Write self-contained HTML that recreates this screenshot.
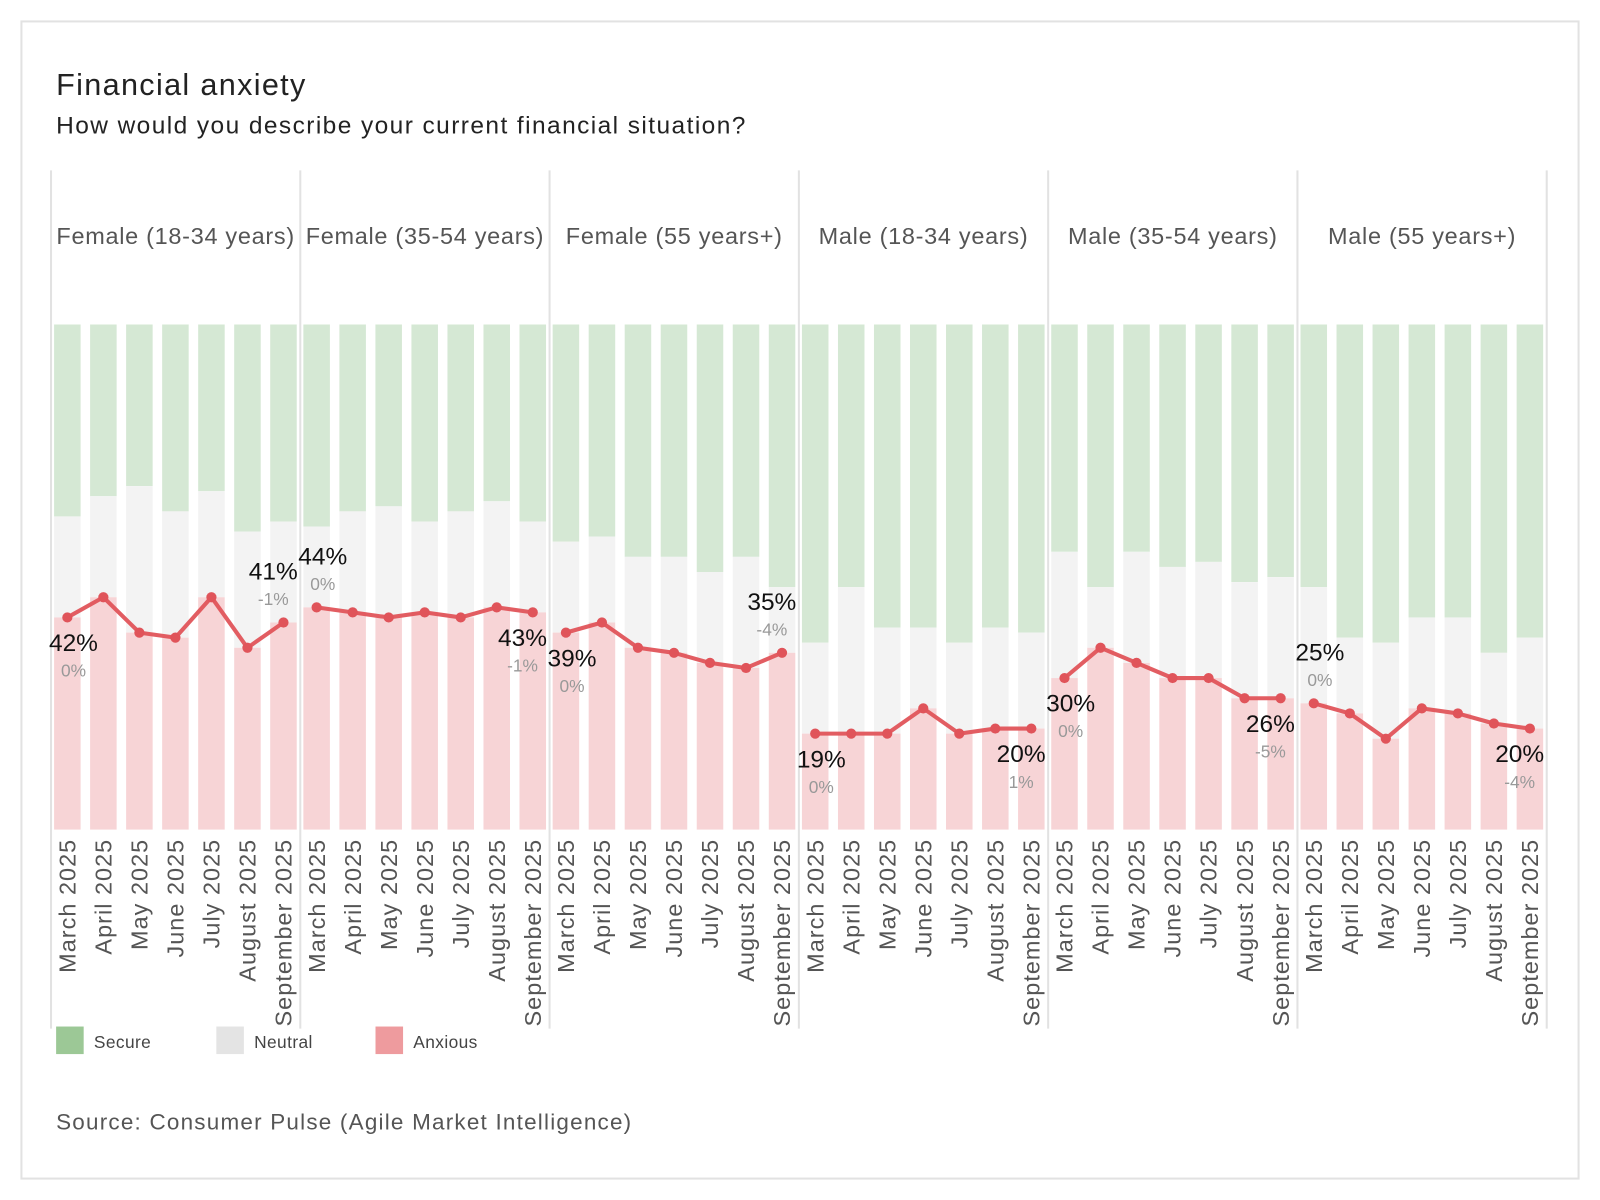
<!DOCTYPE html>
<html><head><meta charset="utf-8"><style>
html,body{margin:0;padding:0;background:#fff;}
svg{display:block;font-family:"Liberation Sans",sans-serif;}
</style></head><body>
<svg id="chart" width="1600" height="1200" viewBox="0 0 1568 1176" xmlns="http://www.w3.org/2000/svg">
<rect x="21" y="21" width="1526" height="1134" fill="#fff" stroke="#e2e2e2" stroke-width="2"/>
<text x="55" y="93" font-size="30" letter-spacing="1.3" fill="#222">Financial anxiety</text>
<text x="55" y="131" font-size="24" letter-spacing="1.4" fill="#222">How would you describe your current financial situation?</text>
<g id="plot"></g>
<g>
<rect x="55" y="1006" width="27" height="27" fill="#9cc896"/>
<text x="92" y="1027" font-size="17" letter-spacing="0.4" fill="#444">Secure</text>
<rect x="212" y="1006" width="27" height="27" fill="#e4e4e4"/>
<text x="249" y="1027" font-size="17" letter-spacing="0.4" fill="#444">Neutral</text>
<rect x="368" y="1006" width="27" height="27" fill="#ee9b9e"/>
<text x="405" y="1027" font-size="17" letter-spacing="0.4" fill="#444">Anxious</text>
</g>
<text x="55" y="1107" font-size="22" letter-spacing="1.2" fill="#555">Source: Consumer Pulse (Agile Market Intelligence)</text>
</svg>
<script>
const panels = ["Female (18-34 years)","Female (35-54 years)","Female (55 years+)","Male (18-34 years)","Male (35-54 years)","Male (55 years+)"];
const months = ["March 2025","April 2025","May 2025","June 2025","July 2025","August 2025","September 2025"];
const anxious = [
 [42,46,39,38,46,36,41],
 [44,43,42,43,42,44,43],
 [39,41,36,35,33,32,35],
 [19,19,19,24,19,20,20],
 [30,36,33,30,30,26,26],
 [25,23,18,24,23,21,20]];
const secure = [
 [38,34,32,37,33,41,39],
 [40,37,36,39,37,35,39],
 [43,42,46,46,49,46,52],
 [63,52,60,60,63,60,61],
 [45,52,45,48,47,51,50],
 [52,62,63,58,58,65,62]];
const firstChange = ["0%","0%","0%","0%","0%","0%"];
const lastChange = ["-1%","-1%","-4%","1%","-5%","-4%"];
const firstAbove = [false,true,false,false,false,true];
const lastAbove = [true,false,true,false,false,false];

const NS="http://www.w3.org/2000/svg";
const plot=document.getElementById('plot');
const TOP=318, BOT=813, H=BOT-TOP;
const P0=50, PW=244.3;
function yv(v){return BOT - v/100*H;}
function px(p){return P0 + p*PW;}
function bx(p,i){return px(p)+3+i*35.3;}
const BW=26;
function mk(tag,attrs,parent){const e=document.createElementNS(NS,tag);for(const k in attrs)e.setAttribute(k,attrs[k]);(parent||plot).appendChild(e);return e;}

for(let p=0;p<=panels.length;p++){
  const l=mk('line',{x1:px(p),x2:px(p),y1:167,y2:1008,stroke:'#e2e2e2','stroke-width':2});
  
  
}
panels.forEach((name,p)=>{
  const g=mk('g',{});
  
  
  const t=mk('text',{x:px(p)+PW/2,y:239,'text-anchor':'middle','font-size':23,'letter-spacing':0.7,fill:'#555'},g);
  t.textContent=name;
  
  
  months.forEach((m,i)=>{
    const a=anxious[p][i], s=secure[p][i];
    const x=bx(p,i);
    const rs=mk('rect',{x:x,y:TOP,width:BW,height:s/100*H,fill:'#d5e8d4'},g);
    
    
    const rn=mk('rect',{x:x,y:yv(100-s),width:BW,height:(100-s-a)/100*H,fill:'#f3f3f3'},g);
    
    
    const ra=mk('rect',{x:x,y:yv(a),width:BW,height:a/100*H,fill:'#f7d4d6'},g);
    
    
    const tl=mk('text',{x:0,y:0,'text-anchor':'end','font-size':23,'letter-spacing':1,fill:'#555',transform:`translate(${x+BW/2+8},822) rotate(-90)`},g);
    tl.textContent=m;
    
    
  });
  const pts=anxious[p].map((a,i)=>[bx(p,i)+BW/2,yv(a)]);
  const pl=mk('polyline',{points:pts.map(q=>q.join(',')).join(' '),fill:'none',stroke:'#e0545a','stroke-width':4,'stroke-linejoin':'round','stroke-opacity':0.95},g);
  
  
  pts.forEach(q=>{
    const c=mk('circle',{cx:q[0],cy:q[1],r:5,fill:'#e0545a'},g);
    
    
  });
  [[0,firstAbove[p],firstChange[p],6],[6,lastAbove[p],lastChange[p],-10]].forEach(([i,above,ch,dx])=>{
    const [cx,cy]=pts[i];
    const by=above?cy-42:cy+33, sy=above?cy-17:cy+58;
    const t1=mk('text',{x:cx+dx,y:by,'text-anchor':'middle','font-size':24,fill:'#111'},g);
    t1.textContent=anxious[p][i]+'%';
    
    
    const t2=mk('text',{x:cx+dx,y:sy,'text-anchor':'middle','font-size':17,fill:'#999'},g);
    t2.textContent=ch;
    
    
  });
});
</script>
</body></html>
